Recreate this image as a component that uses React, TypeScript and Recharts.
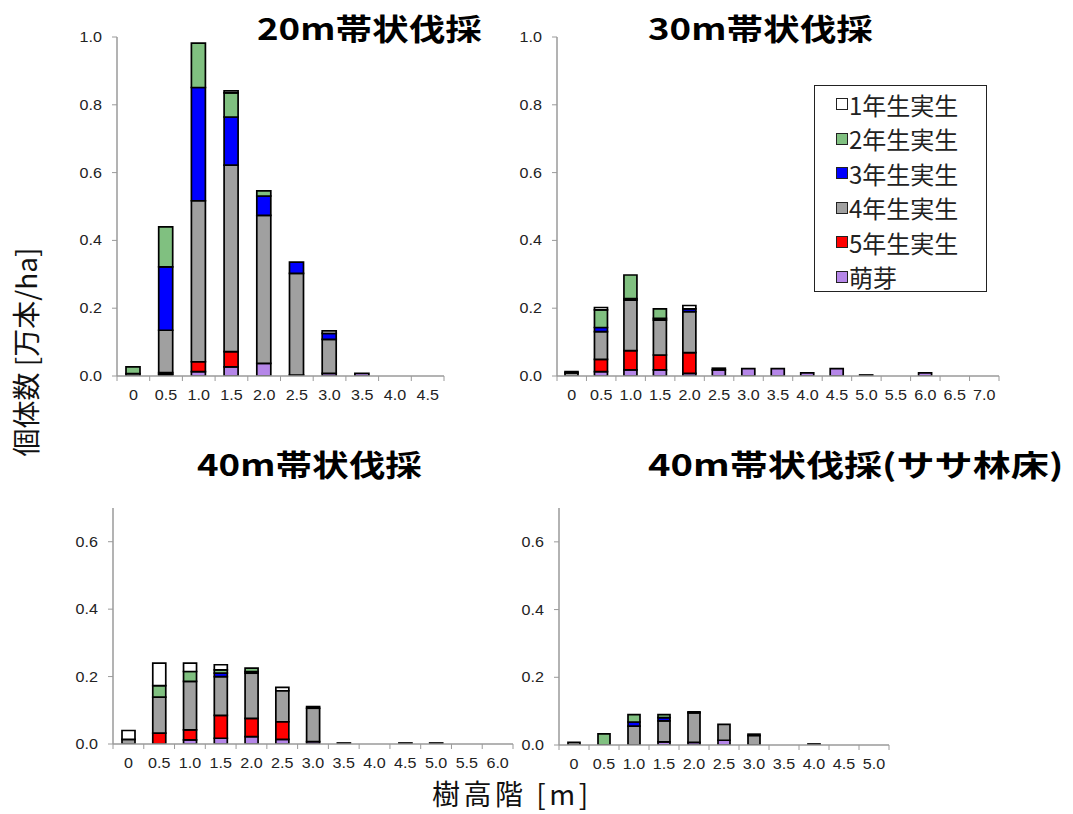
import React from 'react';
import { BarChart, Bar, XAxis, YAxis } from 'recharts';

// height classes (m)
const cats20 = ['0', '0.5', '1.0', '1.5', '2.0', '2.5', '3.0', '3.5', '4.0', '4.5'];
const cats30 = ['0', '0.5', '1.0', '1.5', '2.0', '2.5', '3.0', '3.5', '4.0', '4.5', '5.0', '5.5', '6.0', '6.5', '7.0'];
const cats40 = ['0', '0.5', '1.0', '1.5', '2.0', '2.5', '3.0', '3.5', '4.0', '4.5', '5.0', '5.5', '6.0'];
const cats40s = ['0', '0.5', '1.0', '1.5', '2.0', '2.5', '3.0', '3.5', '4.0', '4.5', '5.0'];

// 20m帯状伐採
const bud20 = [0, 0.005, 0.013, 0.027, 0.037, 0.003, 0.008, 0.008, 0, 0];
const y5_20 = [0, 0.005, 0.029, 0.045, 0, 0, 0, 0, 0, 0];
const y4_20 = [0.007, 0.125, 0.475, 0.55, 0.437, 0.3, 0.1, 0, 0, 0];
const y3_20 = [0, 0.187, 0.334, 0.142, 0.057, 0.033, 0.018, 0, 0, 0];
const y2_20 = [0.02, 0.118, 0.131, 0.071, 0.015, 0, 0, 0, 0, 0];
const y1_20 = [0, 0, 0, 0.006, 0, 0, 0.007, 0, 0, 0];

// 30m帯状伐採
const bud30 = [0, 0.013, 0.018, 0.018, 0.008, 0.018, 0.022, 0.022, 0.009, 0.022, 0.003, 0, 0.009, 0, 0];
const y5_30 = [0, 0.036, 0.057, 0.044, 0.061, 0, 0, 0, 0, 0, 0, 0, 0, 0, 0];
const y4_30 = [0.009, 0.082, 0.149, 0.103, 0.121, 0, 0, 0, 0, 0, 0, 0, 0, 0, 0];
const y3_30 = [0, 0.012, 0.004, 0.005, 0.008, 0, 0, 0, 0, 0, 0, 0, 0, 0, 0];
const y2_30 = [0, 0.052, 0.07, 0.028, 0, 0, 0, 0, 0, 0, 0, 0, 0, 0, 0];
const y1_30 = [0.004, 0.007, 0, 0, 0.01, 0.005, 0, 0, 0, 0, 0, 0, 0, 0, 0];

// 40m帯状伐採
const bud40 = [0, 0, 0.012, 0.017, 0.022, 0.014, 0.007, 0.003, 0, 0.003, 0.003, 0, 0];
const y5_40 = [0, 0.032, 0.03, 0.068, 0.054, 0.052, 0, 0, 0, 0, 0, 0, 0];
const y4_40 = [0.014, 0.107, 0.144, 0.115, 0.134, 0.092, 0.099, 0, 0, 0, 0, 0, 0];
const y3_40 = [0, 0, 0, 0.01, 0.005, 0, 0, 0, 0, 0, 0, 0, 0];
const y2_40 = [0, 0.034, 0.029, 0.01, 0.01, 0, 0, 0, 0, 0, 0, 0, 0];
const y1_40 = [0.026, 0.067, 0.025, 0.015, 0, 0.01, 0.005, 0, 0, 0, 0, 0, 0];

// 40m帯状伐採(ササ林床)
const bud40s = [0, 0, 0, 0.009, 0.008, 0.014, 0, 0, 0, 0, 0];
const y5_40s = [0, 0, 0, 0, 0, 0, 0, 0, 0, 0, 0];
const y4_40s = [0.008, 0, 0.056, 0.062, 0.087, 0.047, 0.028, 0, 0.003, 0, 0];
const y3_40s = [0, 0, 0.012, 0.01, 0, 0, 0, 0, 0, 0, 0];
const y2_40s = [0, 0.033, 0.022, 0.009, 0, 0, 0, 0, 0, 0, 0];
const y1_40s = [0, 0, 0, 0, 0.003, 0, 0.004, 0, 0, 0, 0];

const ticksTall = [0, 0.2, 0.4, 0.6, 0.8, 1.0];
const ticksShort = [0, 0.2, 0.4, 0.6];

// bottom-to-top stack order
const series = [
    { key: 'bud', name: '萌芽', color: '#b586e8' },
    { key: 'y5', name: '5年生実生', color: '#ff0000' },
    { key: 'y4', name: '4年生実生', color: '#a0a0a0' },
    { key: 'y3', name: '3年生実生', color: '#0000ff' },
    { key: 'y2', name: '2年生実生', color: '#80c080' },
    { key: 'y1', name: '1年生実生', color: '#ffffff' },
];

const build = (cats: string[], cols: number[][]) =>
    cats.map((h, i) => {
        const row: any = { h };
        series.forEach((s, j) => (row[s.key] = cols[j][i]));
        return row;
    });

const data20 = build(cats20, [bud20, y5_20, y4_20, y3_20, y2_20, y1_20]);
const data30 = build(cats30, [bud30, y5_30, y4_30, y3_30, y2_30, y1_30]);
const data40 = build(cats40, [bud40, y5_40, y4_40, y3_40, y2_40, y1_40]);
const data40s = build(cats40s, [bud40s, y5_40s, y4_40s, y3_40s, y2_40s, y1_40s]);

const tickFont = '"Liberation Sans", Arial, sans-serif';
const jpFont = '"Noto Sans CJK JP", sans-serif';

interface PanelProps {
    data: any[];
    left: number;
    top: number;
    width: number;
    height: number;
    plot: { x0: number; x1: number; y0: number; y1: number };
    yMax: number;
    yTicks: number[];
    barSize: number;
}

const Y_W = 50;
const X_H = 40;

const Panel: React.FC<PanelProps> = ({ data, left, top, width, height, plot, yMax, yTicks, barSize }) => {
    const margin = {
        left: plot.x0 - left - Y_W,
        right: left + width - plot.x1,
        top: plot.y0 - top,
        bottom: top + height - plot.y1 - X_H,
    };
    const step = (plot.x1 - plot.x0) / data.length;
    const axisY = plot.y1 - top;

    const XTick = (props: any) => {
        const { x, payload, index } = props;
        return (
            <g>
                <line x1={x - step / 2} x2={x - step / 2} y1={axisY} y2={axisY + 5} stroke="#9a9a9a" />
                {index === data.length - 1 && (
                    <line x1={x + step / 2} x2={x + step / 2} y1={axisY} y2={axisY + 5} stroke="#9a9a9a" />
                )}
                <text
                    transform={`translate(${x},${axisY + 24}) scale(1.15,1)`}
                    textAnchor="middle"
                    fontSize={14}
                    fontFamily={tickFont}
                    fill="#222"
                >
                    {payload.value}
                </text>
            </g>
        );
    };

    const YTick = (props: any) => {
        const { x, y, payload } = props;
        return (
            <text
                transform={`translate(${x},${y + 5}) scale(1.15,1)`}
                textAnchor="end"
                fontSize={14}
                fontFamily={tickFont}
                fill="#222"
            >
                {payload.value.toFixed(1)}
            </text>
        );
    };

    return (
        <div style={{ position: 'absolute', left, top, width, height }}>
            <BarChart width={width} height={height} data={data} margin={margin} barSize={barSize}>
                <XAxis
                    dataKey="h"
                    height={X_H}
                    interval={0}
                    axisLine={{ stroke: '#9a9a9a', strokeWidth: 1.5 }}
                    tickLine={false}
                    tick={XTick}
                />
                <YAxis
                    width={Y_W}
                    domain={[0, yMax]}
                    ticks={yTicks}
                    allowDataOverflow
                    axisLine={{ stroke: '#9a9a9a', strokeWidth: 1.5 }}
                    tickLine={{ stroke: '#9a9a9a' }}
                    tickSize={5}
                    tickMargin={10}
                    tick={YTick}
                />
                {series.map((s) => (
                    <Bar
                        key={s.key}
                        dataKey={s.key}
                        name={s.name}
                        stackId="a"
                        fill={s.color}
                        stroke="#000"
                        strokeWidth={1.7}
                        isAnimationActive={false}
                    />
                ))}
            </BarChart>
        </div>
    );
};

const Title: React.FC<{ text: string; left: number; top: number; sx?: number }> = ({ text, left, top, sx = 1.22 }) => (
    <div
        style={{
            position: 'absolute',
            left,
            top,
            fontFamily: jpFont,
            fontWeight: 'bold',
            fontSize: 30,
            lineHeight: '30px',
            whiteSpace: 'nowrap',
            transform: `scaleX(${sx})`,
            transformOrigin: 'left top',
            color: '#000',
        }}
    >
        {text}
    </div>
);

const legendItems = [...series].reverse();

const App: React.FC = () => {
    return (
        <div style={{ position: 'absolute', left: 0, top: 0, width: 1073, height: 814, background: '#fff', overflow: 'hidden' }}>
            <Panel data={data20} left={0} top={0} width={470} height={420}
                plot={{ x0: 117, x1: 444, y0: 37, y1: 376 }} yMax={1} yTicks={ticksTall} barSize={14} />
            <Panel data={data30} left={470} top={0} width={560} height={420}
                plot={{ x0: 557, x1: 999, y0: 37, y1: 376 }} yMax={1} yTicks={ticksTall} barSize={13} />
            <Panel data={data40} left={0} top={440} width={530} height={360}
                plot={{ x0: 113, x1: 513, y0: 508, y1: 744 }} yMax={0.7} yTicks={ticksShort} barSize={13} />
            <Panel data={data40s} left={500} top={440} width={420} height={360}
                plot={{ x0: 559, x1: 889, y0: 508, y1: 745 }} yMax={0.7} yTicks={ticksShort} barSize={12} />

            <Title text="20m帯状伐採" left={257} top={12} />
            <Title text="30m帯状伐採" left={648} top={12} />
            <Title text="40m帯状伐採" left={197} top={448} />
            <Title text="40m帯状伐採(ササ林床)" left={648} top={448} sx={1.27} />

            {/* legend */}
            <div
                style={{
                    position: 'absolute',
                    left: 814,
                    top: 85,
                    width: 171,
                    height: 205,
                    border: '1.5px solid #222',
                    background: '#fff',
                }}
            >
                {legendItems.map((s, i) => (
                    <div
                        key={s.key}
                        style={{
                            position: 'absolute',
                            left: 21,
                            top: 3 + i * 34.5,
                            height: 30,
                            display: 'flex',
                            alignItems: 'center',
                            fontFamily: jpFont,
                            fontSize: 24,
                            whiteSpace: 'nowrap',
                            color: '#222',
                        }}
                    >
                        <span
                            style={{
                                display: 'inline-block',
                                width: 10,
                                height: 10,
                                background: s.color,
                                border: '1.5px solid #222',
                                marginRight: 1,
                            }}
                        />
                        {s.name}
                    </div>
                ))}
            </div>

            {/* axis titles */}
            <div
                style={{
                    position: 'absolute',
                    left: 25,
                    top: 352,
                    fontFamily: jpFont,
                    fontSize: 28,
                    lineHeight: '28px',
                    whiteSpace: 'nowrap',
                    transform: 'translate(-50%, -50%) rotate(-90deg)',
                    color: '#111',
                }}
            >
                個体数 [万本/ha]
            </div>
            <div
                style={{
                    position: 'absolute',
                    left: 432,
                    top: 779,
                    fontFamily: jpFont,
                    fontSize: 28,
                    lineHeight: '28px',
                    letterSpacing: 3.5,
                    whiteSpace: 'nowrap',
                    color: '#111',
                }}
            >
                樹高階 [m]
            </div>
        </div>
    );
};

export default App;
